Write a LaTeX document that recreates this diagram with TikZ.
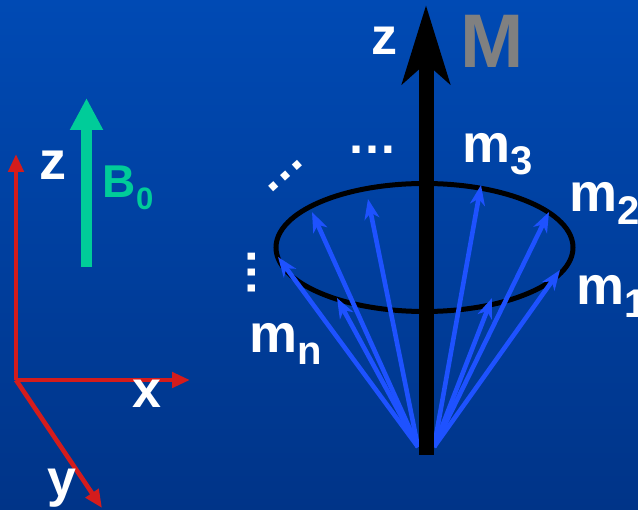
\documentclass[tikz,border=0pt]{standalone}
\usepackage{fontspec}
\setmainfont{Liberation Sans}
\usetikzlibrary{arrows.meta}
\definecolor{bgtop}{RGB}{0,74,180}
\definecolor{bgbot}{RGB}{0,52,136}
\definecolor{axisred}{RGB}{212,28,28}
\definecolor{bgreen}{RGB}{0,204,153}
\definecolor{spinblue}{RGB}{30,82,255}
\definecolor{mgrey}{RGB}{128,128,128}
\newcommand{\fsz}[1]{\fontsize{#1}{#1}\selectfont}
\newcommand{\lowsub}[3]{\raisebox{-#2pt}{\fsz{#1}#3}}
\begin{document}
\begin{tikzpicture}[x=1pt,y=-1pt,
  lbl/.style={inner sep=0pt, anchor=base west, text=white, font=\bfseries\fsz{54}},
  spin/.style={draw=spinblue, line width=4.6pt, -{Stealth[length=20pt,width=15pt,inset=6pt]}},
  axisarrow/.style={draw=axisred, line width=4.6pt, -{Triangle[length=18pt,width=15pt]}},
  dotstext/.style={inner sep=0pt, anchor=base, text=white, font=\bfseries\fsz{50}}]
\useasboundingbox (0,0) rectangle (638,510);
\shade[top color=bgtop, bottom color=bgbot] (0,0) rectangle (638,510);

% coordinate system
\coordinate (O) at (16,380);
\coordinate (Zt) at (16,154);
\coordinate (Xt) at (190,380);
\coordinate (Yt) at (102,508);
\draw[axisarrow] (O) -- (Zt);
\draw[axisarrow] (O) -- (Xt);
\draw[axisarrow] (O) -- (Yt);
\node[lbl] (zL) at (39,180) {z};
\node[lbl, font=\bfseries\fsz{52}] (xL) at (132,408) {x};
\node[lbl, font=\bfseries\fsz{52}] (yL) at (47,497) {y};

% B0
\coordinate (Bb) at (86.5,267);
\coordinate (Bt) at (86.5,98);
\draw[bgreen, line width=11pt, -{Triangle[length=32pt,width=31pt]}] (Bb) -- (Bt);
\node[lbl, text=bgreen, font=\bfseries\fsz{46}] (B0) at (102.6,198) {B\lowsub{31}{12}{0}};

% precession cone
\draw[line width=5pt] (424.5,247.5) ellipse [x radius=148.5pt, y radius=64pt];
\coordinate (OL) at (418,447);
\coordinate (OR) at (434,447);
\coordinate (t1) at (278,257);
\coordinate (t2) at (312,212);
\coordinate (t3) at (368,199);
\coordinate (t4) at (337,298);
\coordinate (t5) at (481,185);
\coordinate (t6) at (549,212);
\coordinate (t7) at (560,270);
\coordinate (t8) at (492,298);
\foreach \t in {t1,t2,t3,t4} \draw[spin] (OL) -- (\t);
\foreach \t in {t5,t6,t7,t8} \draw[spin] (OR) -- (\t);

% net magnetisation
\coordinate (Mb) at (426,455);
\coordinate (Mt) at (426,5);
\draw[line width=15pt, -{Stealth[length=78pt,width=47pt,inset=20pt]}] (Mb) -- (Mt);
\node[lbl, font=\bfseries\fsz{52}] (zM) at (371,55) {z};
\node[lbl, text=mgrey, font=\bfseries\fsz{76}] (M) at (460.5,68) {M};

% labels of spins
\node[lbl] (m3) at (462.5,163) {m\lowsub{40}{12}{3}};
\node[lbl] (m2) at (569.5,212) {m\lowsub{40}{13}{2}};
\node[lbl] (m1) at (576.5,305) {m\lowsub{40}{13}{1}};
\node[lbl] (mn) at (249.5,353) {m\lowsub{40}{12}{n}};

% ellipsis dots
\node[dotstext] (d1) at (372,154) {…};
\node[dotstext, rotate=42] (d2) at (288.3,178.6) {…};
\node[dotstext, rotate=90] (d3) at (255.5,273) {…};
\end{tikzpicture}
\end{document}
